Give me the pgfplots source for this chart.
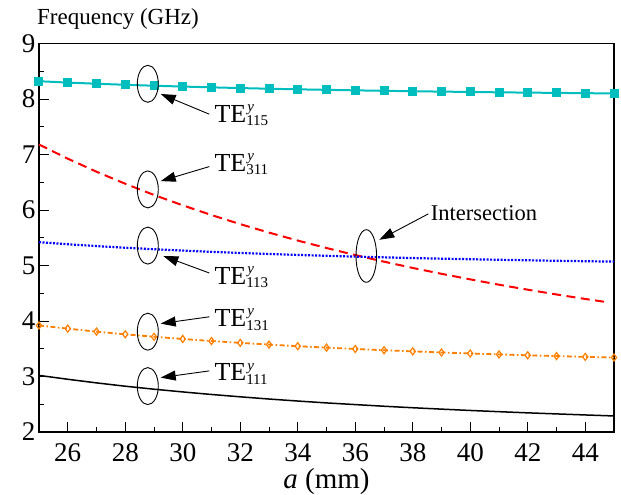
\documentclass[border=0pt]{standalone}
\usepackage{fontspec}
\setmainfont{Liberation Serif}
\usepackage{pgfplots}
\pgfplotsset{compat=1.18}
\usetikzlibrary{arrows.meta}

\definecolor{cyanline}{RGB}{0,190,190}
\definecolor{orangeline}{RGB}{255,128,0}

\newcommand\fs[1]{\fontsize{#1}{#1}\selectfont}
% mode label: TE with stacked y superscript and index subscript
\newcommand\TE[1]{TE\rlap{\kern1pt\raisebox{0.42em}{\fs{15}\itshape y}}\raisebox{-0.12em}{\fs{15}#1}}

\begin{document}
\begin{tikzpicture}
\path[use as bounding box] (-39pt,-63pt) rectangle (582pt,432pt);
\begin{axis}[
    at={(0pt,0pt)}, anchor=south west,
    scale only axis, width=575pt, height=388.5pt,
    xmin=25, xmax=45, ymin=2, ymax=9,
    xtick={26,28,...,44}, minor xtick={27,29,...,43},
    ytick={2,...,9}, minor ytick={2.5,3.5,...,8.5},
    tick align=inside, xtick pos=left, ytick pos=left,
    major tick length=10pt, minor tick length=5pt,
    every tick/.style={black, line width=0.8pt},
    axis line style={line width=1.2pt},
    ticklabel style={font=\rmfamily\fs{27}, /pgf/number format/assume math mode=true},
    xticklabel style={yshift=-8pt},
    clip=false,
]
% TE115
\addplot[cyanline, line width=2pt, mark=square*, mark size=3.5pt] coordinates {
(25,8.320) (26,8.296) (27,8.275) (28,8.256) (29,8.239) (30,8.224) (31,8.210)
(32,8.197) (33,8.185) (34,8.174) (35,8.165) (36,8.156) (37,8.147) (38,8.140)
(39,8.133) (40,8.127) (41,8.120) (42,8.115) (43,8.110) (44,8.105) (45,8.100)};
% TE311
\addplot[red, line width=2pt, dash pattern=on 9pt off 5.5pt] coordinates {
(25,7.180) (26,6.925) (27,6.690) (28,6.473) (29,6.271) (30,6.084) (31,5.909)
(32,5.745) (33,5.593) (34,5.449) (35,5.315) (36,5.188) (37,5.069) (38,4.956)
(39,4.850) (40,4.750) (41,4.654) (42,4.564) (43,4.478) (44,4.397) (44.8,4.336)};
% TE113
\addplot[blue, line width=2.2pt, dash pattern=on 2pt off 1.5pt] coordinates {
(25,5.420) (26,5.383) (27,5.350) (28,5.320) (29,5.293) (30,5.269) (31,5.246)
(32,5.226) (33,5.208) (34,5.190) (35,5.175) (36,5.160) (37,5.147) (38,5.134)
(39,5.123) (40,5.113) (41,5.103) (42,5.094) (43,5.085) (44,5.077) (45,5.070)};
% TE131
\addplot[orangeline, line width=1.8pt, dash pattern=on 5pt off 2.5pt on 1.5pt off 2.5pt,
    mark=diamond, mark size=3.5pt, mark options={solid, line width=1.2pt, fill=white}] coordinates {
(25,3.920) (26,3.862) (27,3.808) (28,3.760) (29,3.716) (30,3.676) (31,3.639)
(32,3.606) (33,3.575) (34,3.546) (35,3.520) (36,3.496) (37,3.473) (38,3.453)
(39,3.433) (40,3.415) (41,3.398) (42,3.382) (43,3.368) (44,3.354) (45,3.341)};
% TE111
\addplot[black, line width=1.5pt] coordinates {
(25,3.020) (26,2.950) (27,2.885) (28,2.825) (29,2.771) (30,2.722) (31,2.676)
(32,2.634) (33,2.594) (34,2.558) (35,2.524) (36,2.494) (37,2.464) (38,2.437)
(39,2.412) (40,2.388) (41,2.366) (42,2.345) (43,2.326) (44,2.307) (45,2.289)};
\end{axis}

\node[anchor=base west, inner sep=0] at (-2pt,407pt) {\rmfamily\fs{23}Frequency (GHz)};
\node[anchor=base, inner sep=0] at (287.5pt,-57pt) {\rmfamily\fs{29}\textit{a} (mm)};

\begin{scope}[line width=0.9pt, >={Triangle[length=15pt,width=10pt]}]
\draw (108.8pt,348.2pt) ellipse [x radius=10.5pt, y radius=18.5pt];
\draw (108.8pt,242.6pt) ellipse [x radius=10.5pt, y radius=18.5pt];
\draw (108.8pt,186.4pt) ellipse [x radius=10.5pt, y radius=18.5pt];
\draw (108.8pt,100.3pt) ellipse [x radius=10.5pt, y radius=18.5pt];
\draw (108.8pt,45.9pt) ellipse [x radius=10.5pt, y radius=18.5pt];
\draw (327.3pt,176pt) ellipse [x radius=10.3pt, y radius=26.3pt];
\draw[->] (170.3pt,317.8pt) -- (121.7pt,338pt);
\draw[->] (170.3pt,265.4pt) -- (121.7pt,250.9pt);
\draw[->] (170.3pt,159pt) -- (124.3pt,176pt);
\draw[->] (170.3pt,115.2pt) -- (121.7pt,108.4pt);
\draw[->] (170.3pt,61.1pt) -- (121.7pt,54.4pt);
\draw[->] (389.3pt,218.1pt) -- (340.3pt,192.2pt);
\end{scope}

\begin{scope}[every node/.style={anchor=base west, inner sep=0, font=\rmfamily\fs{26}}]
\node at (175.3pt,309.3pt) {\TE{115}};
\node at (175.3pt,260.3pt) {\TE{311}};
\node at (175.3pt,147.2pt) {\TE{113}};
\node at (175.3pt,105.1pt) {\TE{131}};
\node at (175.3pt,51pt) {\TE{111}};
\node[font=\rmfamily\fs{22.5}] at (391.7pt,211.4pt) {Intersection};
\end{scope}
\end{tikzpicture}
\end{document}
